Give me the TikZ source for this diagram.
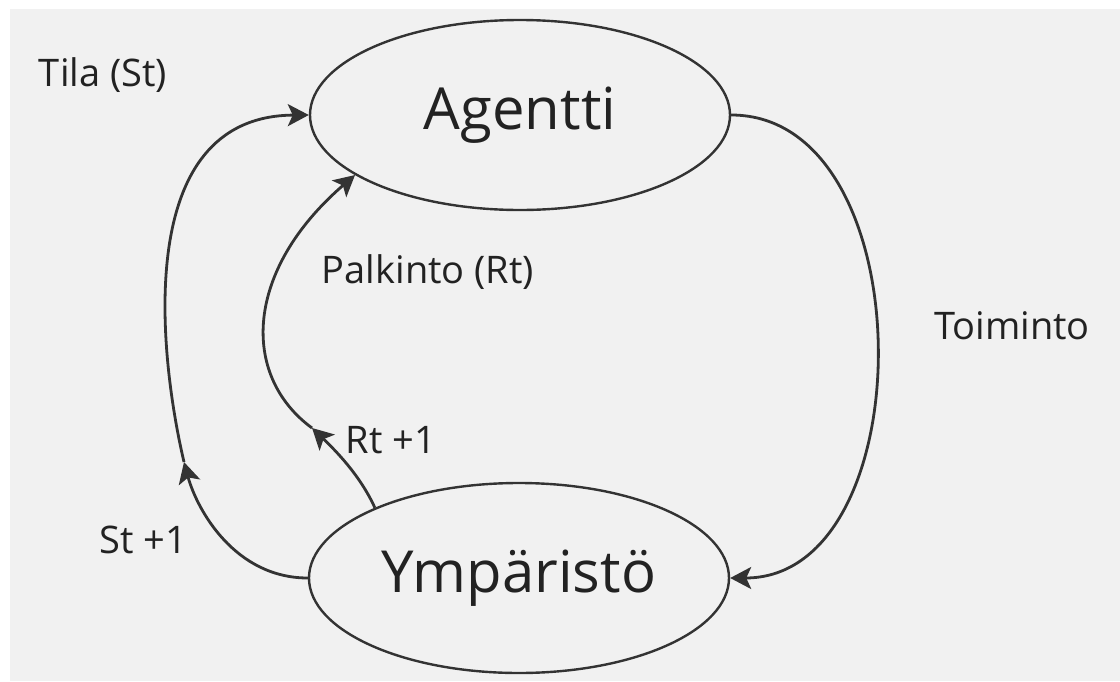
\documentclass[tikz,border=0pt]{standalone}
\usepackage{fontspec}
\setmainfont{Open Sans}
\usetikzlibrary{arrows.meta,shapes.geometric}
\definecolor{inkgray}{RGB}{51,51,51}
\definecolor{textgray}{RGB}{34,34,34}
\definecolor{paper}{RGB}{241,241,241}
\tikzset{%
    state/.style={%
        ellipse, draw=inkgray, line width=2.4pt,
        minimum width=420pt, minimum height=190pt, inner sep=0pt,
        text=textgray, font=\fontsize{58}{66}\selectfont
    },
    lbl/.style={text=textgray, font=\fontsize{38}{44}\selectfont},
    flow/.style={draw=inkgray, line width=2.8pt,
        -{Stealth[length=21pt,width=22pt,inset=5pt]}}
}

\begin{document}
\begin{tikzpicture}[x=1pt,y=-1pt]
    \useasboundingbox (0,0) rectangle (1120,681);
    \fill[white] (0,0) rectangle (1120,681);
    \fill[paper] (10,9) rectangle (1120,681);
%-----------------------------------------------
    \node[state] (ag) at (520,115) {Agentti};
    \node[state] (ym) at (519,578) {Ympäristö};
%-----------------------------------------------
    \coordinate (tilamid) at (184,462);
    \coordinate (rtmid) at (312,428);
%-----------------------------------------------
    \draw[flow] (ag.east) .. controls (925,115) and (925,578) .. (ym.east);
    \draw[flow] (ym.west) .. controls (235,578) and (197,510) .. (tilamid);
    \draw[flow] (tilamid) .. controls (160,360) and (130,116) .. (ag.west);
    \draw[flow] (ym.154) .. controls (360,475) and (335,450) .. (rtmid);
    \draw[flow] (rtmid) .. controls (240,375) and (245,270) .. (ag.200);
%-----------------------------------------------
    \node[lbl] (tila) at (103,75) {Tila (St)};
    \node[lbl] (palkinto) at (428,272) {Palkinto (Rt)};
    \node[lbl] (toiminto) at (1012,326) {Toiminto};
    \node[lbl] (rtnext) at (391,440) {Rt +1};
    \node[lbl] (stnext) at (143,540) {St +1};
\end{tikzpicture}
\end{document}
